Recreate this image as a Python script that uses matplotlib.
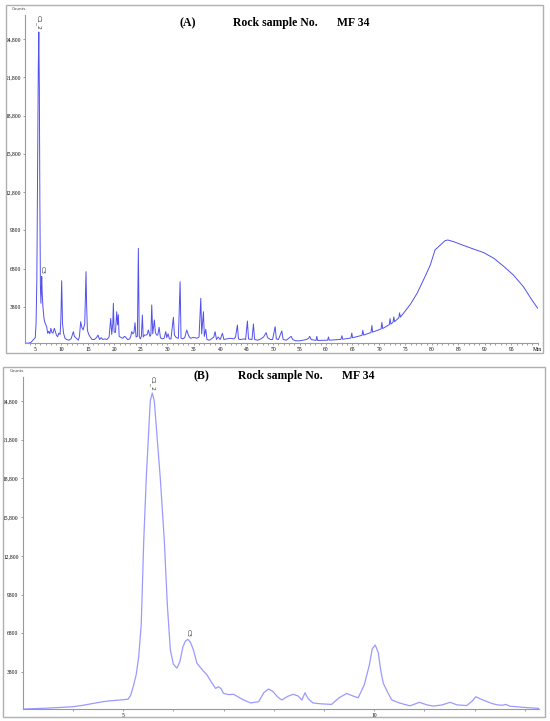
import matplotlib
matplotlib.use("Agg")
import matplotlib.pyplot as plt
import matplotlib.patches as patches

# --- panel A: full run (minutes, counts) ---
a_time = [3.1, 3.5, 4.0, 4.3, 4.6, 4.9, 5.05, 5.2, 5.35, 5.5, 5.62, 5.72, 5.82, 5.92,
          6.02, 6.12, 6.2, 6.27, 6.35, 6.5, 6.7, 6.85, 7.0, 7.2, 7.4, 7.6, 7.8, 8.0,
          8.2, 8.4, 8.65, 8.85, 9.05, 9.28, 9.5, 9.75, 9.9, 10.04, 10.2, 10.4, 10.67,
          11.0, 11.4, 11.8, 12.05, 12.25, 12.45, 12.8, 13.2, 13.4, 13.63, 13.85, 14.1,
          14.4, 14.55, 14.64, 14.75, 14.9, 15.1, 15.4, 15.8, 16.2, 16.5, 16.66, 16.9,
          17.2, 17.5, 17.8, 18.2, 18.6, 19.0, 19.31, 19.5, 19.7, 19.81, 19.95, 20.2,
          20.44, 20.6, 20.75, 20.9, 21.3, 21.6, 21.9, 22.1, 22.5, 22.9, 23.1, 23.28,
          23.5, 23.7, 23.9, 24.1, 24.35, 24.53, 24.7, 24.9, 25.1, 25.29, 25.45, 25.7,
          26.0, 26.2, 26.43, 26.7, 26.9, 27.06, 27.25, 27.56, 27.75, 28.0, 28.2, 28.45,
          28.7, 29.0, 29.4, 29.71, 29.9, 30.15, 30.4, 30.7, 31.15, 31.35, 31.7, 32.1,
          32.42, 32.6, 32.9, 33.3, 33.68, 33.9, 34.1, 34.4, 34.8, 35.2, 35.6, 36.0,
          36.33, 36.5, 36.83, 37.0, 37.27, 37.5, 38.0, 38.5, 38.8, 39.03, 39.3, 39.6,
          40.0, 40.42, 40.7, 41.2, 41.9, 42.6, 42.9, 43.25, 43.45, 43.8, 44.5, 44.8,
          45.14, 45.35, 46.0, 46.28, 46.5, 47.1, 47.7, 48.2, 48.68, 48.95, 49.5, 49.9,
          50.38, 50.6, 51.0, 51.64, 51.9, 52.5, 53.1, 53.4, 53.7, 54.3, 55.0, 55.6,
          56.3, 56.7, 56.9, 57.2, 58.1, 58.26, 58.4, 60.3, 60.46, 60.6, 62.8, 63.0,
          63.15, 64.7, 64.87, 65.0, 66.8, 66.95, 67.1, 68.5, 68.66, 68.8, 70.4, 70.55,
          70.7, 71.95, 72.1, 72.25, 72.65, 72.8, 72.95, 73.75, 73.9, 74.05, 75.0, 76.0,
          77.2, 78.7, 79.7, 80.6, 81.6, 82.5, 83.0, 84.1, 86.6, 89.8, 91.7, 93.5, 95.4,
          97.3, 98.9, 100.0]
a_counts = [960, 965, 980, 1050, 1200, 1330, 1400, 2500, 6000, 15000, 22500, 25350, 21000, 12000,
            5500, 4090, 5200, 6200, 5000, 3800, 2900, 2600, 2450, 2260, 1740, 1900, 1700, 2130,
            1800, 1750, 2130, 1850, 1600, 1470, 1750, 1650, 3000, 5860, 2500, 1740, 1350,
            1250, 1200, 1300, 1600, 1870, 1500, 1350, 1200, 1500, 2650, 2200, 2000,
            2500, 5000, 6570, 4000, 2000, 1700, 1470, 1250, 1250, 1350, 1420, 1600,
            1250, 1400, 1250, 1300, 1250, 1450, 2910, 1650, 2500, 4090, 1850, 1800,
            3430, 2400, 3200, 1500, 1400, 1350, 1500, 1450, 1250, 1300, 1500, 1870,
            1700, 1800, 2570, 1450, 1500, 8400, 1500, 1300, 1500, 3170, 1450, 1600,
            1600, 1650, 2000, 1500, 1600, 3960, 1700, 2780, 1800, 1600, 1600, 2210,
            1400, 1300, 1350, 1870, 1400, 1700, 1300, 1300, 2990, 1600, 1400, 1350,
            5780, 1350, 1300, 1400, 2000, 1700, 1500, 1350, 1400, 1400, 1350, 1450,
            4480, 1700, 3430, 1500, 2050, 1250, 1200, 1350, 1450, 1870, 1250, 1450,
            1250, 1740, 1250, 1300, 1350, 1300, 1450, 2390, 1300, 1250, 1300, 1250,
            2700, 1300, 1250, 2470, 1250, 1200, 1300, 1450, 1790, 1400, 1250, 1250,
            2260, 1300, 1250, 1920, 1250, 1200, 1400, 1500, 1250, 1150, 1150, 1200,
            1250, 1350, 1500, 1250, 1180, 1500, 1180, 1200, 1450, 1200, 1260, 1550,
            1270, 1370, 1760, 1390, 1580, 1970, 1600, 1800, 2350, 1830, 2080, 2600,
            2110, 2420, 2890, 2460, 2600, 3020, 2650, 2950, 3340, 3010, 3500, 4050,
            4870, 6170, 7090, 8270, 8660, 9000, 9050, 8920, 8530, 8060, 7620, 7010, 6310,
            5390, 4350, 3700]

# --- panel B: zoom on 3-13 min ---
b_time = [3.0, 3.5, 4.0, 4.2, 4.41, 4.6, 4.75, 4.9, 5.0, 5.1, 5.15, 5.2, 5.26, 5.31,
          5.36, 5.41, 5.46, 5.5, 5.54, 5.58, 5.62, 5.68, 5.74, 5.82, 5.88, 5.94, 6.0,
          6.07, 6.13, 6.19, 6.24, 6.29, 6.34, 6.4, 6.47, 6.57, 6.67, 6.76, 6.84, 6.9,
          6.95, 7.0, 7.1, 7.2, 7.3, 7.4, 7.54, 7.7, 7.8, 7.89, 7.98, 8.08, 8.16, 8.27,
          8.38, 8.48, 8.56, 8.62, 8.68, 8.78, 8.95, 9.15, 9.3, 9.45, 9.57, 9.68, 9.8,
          9.9, 9.96, 10.02, 10.08, 10.13, 10.18, 10.27, 10.35, 10.5, 10.71, 10.9, 11.05,
          11.18, 11.35, 11.51, 11.65, 11.84, 11.95, 12.02, 12.12, 12.25, 12.35, 12.47,
          12.56, 12.62, 12.7, 12.83, 13.0, 13.28]
b_counts = [930, 1000, 1110, 1220, 1370, 1500, 1570, 1620, 1650, 1700, 2000, 2660, 3600, 4980,
            7500, 13960, 18800, 21800, 24800, 25420, 24800, 21800, 18800, 13960, 9000, 5500, 4400,
            4100, 4600, 5750, 6200, 6330, 6100, 5500, 4470, 4000, 3570, 3000, 2530, 2660,
            2500, 2140, 2050, 2070, 1850, 1630, 1400, 1500, 2200, 2480, 2300, 1850, 1630, 1900,
            2070, 1950, 1630, 2190, 1750, 1400, 1330, 1290, 1800, 2140, 1950, 1800, 2800,
            4300, 5600, 5890, 5300, 3900, 2920, 2200, 1630, 1400, 1180, 1450, 1250,
            1160, 1250, 1450, 1250, 1200, 1550, 1880, 1700, 1500, 1350, 1240,
            1230, 1290, 1150, 1110, 1050, 980]

y_ticks = [3800, 6800, 9800, 12800, 15800, 18800, 21800, 24800]
y_labels = ["3800", "6800", "9800", "12,800", "15,800", "18,800", "21,800", "24,800"]
peaks_a = [("C1_2", 5.72, 25350), ("C3", 6.27, 6200)]
peaks_b = [("C1_2", 5.58, 25420), ("C3", 6.29, 6330)]

W, H = 550, 721
fig = plt.figure(figsize=(W / 100, H / 100), dpi=100)
serif = "Liberation Serif"


def px_axes(x0, y0, x1, y1):
    return fig.add_axes([x0 / W, 1 - y1 / H, (x1 - x0) / W, (y1 - y0) / H])


def frame(x0, y0, x1, y1):
    fig.patches.append(patches.Rectangle((x0 / W, 1 - y1 / H), (x1 - x0) / W, (y1 - y0) / H,
                                         transform=fig.transFigure, fill=False,
                                         edgecolor="#b0b0b0", linewidth=1.0))


def style(ax):
    for s in ["top", "right"]:
        ax.spines[s].set_visible(False)
    for s in ["left", "bottom"]:
        ax.spines[s].set_color("#999999")
        ax.spines[s].set_linewidth(0.8)
    ax.set_yticks(y_ticks)
    ax.set_yticklabels(y_labels, fontsize=4, family=serif)
    ax.tick_params(axis="both", which="both", length=1.5, width=0.5, color="#777777", pad=1.5)
    ax.tick_params(axis="x", labelsize=4)


def label_peaks(ax, peaks):
    for name, t, c in peaks:
        ax.annotate(name, (t, c), xytext=(0, 1.5), textcoords="offset points",
                    rotation=270, ha="center", va="bottom", fontsize=4.3, color="#333333")


def title(y, xs, letter):
    fig.text(xs[0] / W, 1 - y / H, letter, fontsize=8.5, fontweight="bold", family=serif, va="center")
    fig.text(xs[1] / W, 1 - y / H, "Rock sample No.", fontsize=8.5, fontweight="bold", family=serif, va="center")
    fig.text(xs[2] / W, 1 - y / H, "MF 34", fontsize=8.5, fontweight="bold", family=serif, va="center")


# panel A
frame(6, 5, 543, 353)
axA = px_axes(25, 15, 537.7, 343)
axA.plot(a_time, a_counts, color="#5050f0", linewidth=0.7)
axA.set_xlim(3.11, 100)
axA.set_ylim(979, 26680)
style(axA)
axA.set_xticks(list(range(5, 100, 5)) + [100])
axA.set_xticklabels([str(v) for v in range(5, 100, 5)] + ["Min"], family=serif)
axA.set_xticks(range(4, 100), minor=True)
label_peaks(axA, peaks_a)
fig.text(12 / W, 1 - 9 / H, "Counts", fontsize=3, va="center", color="#444444")
title(23, (180, 233, 337), "(A)")

# panel B
frame(3, 367, 545, 717)
axB = px_axes(22.7, 377, 539, 709)
axB.plot(b_time, b_counts, color="#9a9aff", linewidth=0.9)
axB.set_xlim(3.0, 13.28)
axB.set_ylim(933, 26660)
style(axB)
axB.set_xticks(range(4, 14))
axB.set_xticklabels(["" if v not in (5, 10) else str(v) for v in range(4, 14)], family=serif)
label_peaks(axB, peaks_b)
fig.text(10 / W, 1 - 371 / H, "Counts", fontsize=3, va="center", color="#444444")
title(376, (193, 238, 342), "(B)")

fig.savefig("out.png", dpi=100)
